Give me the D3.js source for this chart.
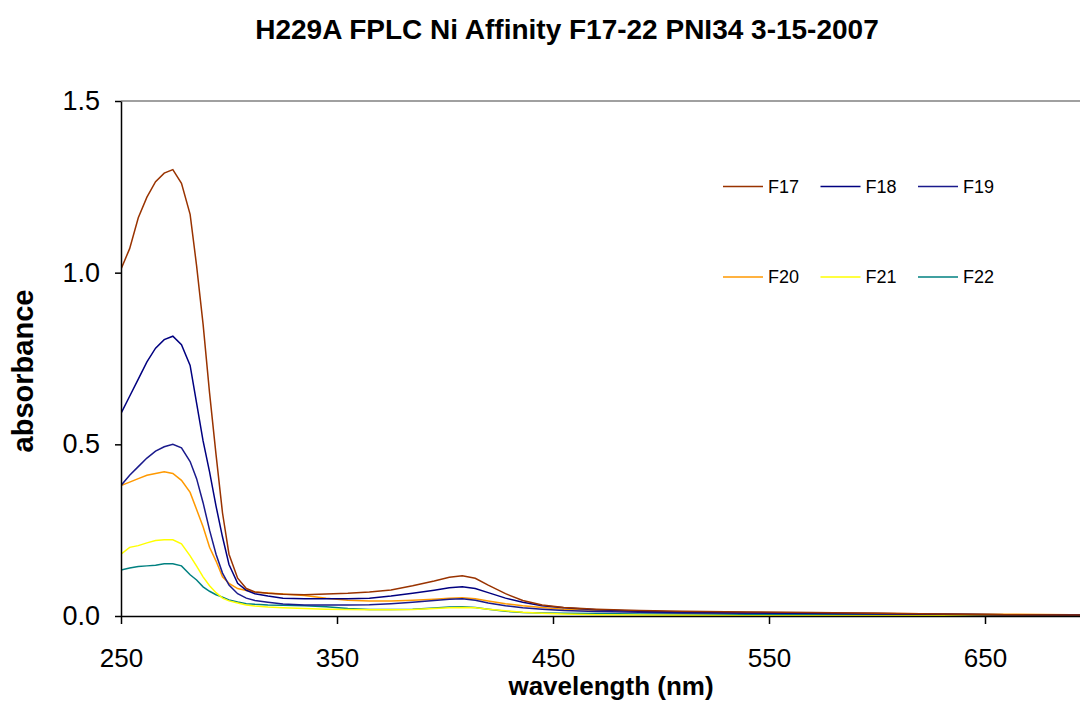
<!DOCTYPE html>
<html>
<head>
<meta charset="utf-8">
<script src="https://cdn.jsdelivr.net/npm/d3@7"></script>
<style>
  body { margin: 0; background: #fff; }
  svg { display: block; font-family: Arial, "Liberation Sans", sans-serif; }
</style>
</head>
<body>
<div class="graph"></div>
<script>
// wavelength (nm) sampled along the spectra
const wavelength = [250, 254, 258, 262, 266, 270, 274, 278, 282, 285, 288, 291, 294, 297, 300, 304, 308, 312, 318, 325, 335, 345, 355, 365, 375, 385, 395, 402, 408, 414, 420, 428, 436, 445, 455, 470, 490, 510, 540, 570, 600, 630, 660, 690, 700]

const F17 = [1.01, 1.07, 1.16, 1.22, 1.265, 1.29, 1.30, 1.26, 1.17, 1.02, 0.85, 0.65, 0.47, 0.30, 0.18, 0.11, 0.08, 0.07, 0.066, 0.063, 0.062, 0.064, 0.066, 0.07, 0.076, 0.088, 0.102, 0.113, 0.117, 0.11, 0.09, 0.065, 0.045, 0.032, 0.025, 0.02, 0.016, 0.014, 0.012, 0.01, 0.008, 0.006, 0.004, 0.003, 0.003]
const F18 = [0.59, 0.64, 0.69, 0.74, 0.78, 0.805, 0.815, 0.79, 0.73, 0.62, 0.51, 0.42, 0.32, 0.23, 0.15, 0.095, 0.075, 0.065, 0.058, 0.052, 0.05, 0.05, 0.05, 0.052, 0.058, 0.066, 0.075, 0.082, 0.085, 0.08, 0.068, 0.052, 0.04, 0.03, 0.024, 0.018, 0.014, 0.012, 0.01, 0.008, 0.007, 0.005, 0.004, 0.003, 0.003]
const F19 = [0.38, 0.41, 0.435, 0.46, 0.48, 0.493, 0.50, 0.49, 0.45, 0.40, 0.33, 0.25, 0.18, 0.125, 0.09, 0.065, 0.052, 0.045, 0.04, 0.035, 0.032, 0.032, 0.032, 0.033, 0.036, 0.04, 0.045, 0.049, 0.05, 0.046, 0.038, 0.03, 0.024, 0.02, 0.016, 0.013, 0.011, 0.009, 0.008, 0.007, 0.006, 0.005, 0.004, 0.004, 0.004]
const F20 = [0.38, 0.39, 0.40, 0.41, 0.415, 0.42, 0.415, 0.395, 0.36, 0.31, 0.26, 0.20, 0.16, 0.114, 0.095, 0.08, 0.074, 0.07, 0.067, 0.064, 0.06, 0.052, 0.046, 0.044, 0.044, 0.046, 0.049, 0.052, 0.053, 0.05, 0.044, 0.036, 0.03, 0.025, 0.02, 0.017, 0.014, 0.012, 0.01, 0.009, 0.008, 0.006, 0.005, 0.004, 0.004]
const F21 = [0.18, 0.20, 0.205, 0.213, 0.22, 0.222, 0.222, 0.21, 0.175, 0.145, 0.114, 0.088, 0.068, 0.052, 0.044, 0.038, 0.032, 0.029, 0.026, 0.024, 0.022, 0.02, 0.019, 0.018, 0.018, 0.019, 0.022, 0.024, 0.025, 0.024, 0.02, 0.015, 0.011, 0.008, 0.006, 0.004, 0.003, 0.002, 0.001, 0.001, 0.001, 0.001, 0.001, 0.001, 0.001]
const F22 = [0.134, 0.14, 0.144, 0.146, 0.148, 0.152, 0.152, 0.146, 0.12, 0.105, 0.085, 0.072, 0.062, 0.055, 0.047, 0.041, 0.036, 0.034, 0.032, 0.031, 0.03, 0.027, 0.022, 0.019, 0.019, 0.02, 0.023, 0.026, 0.027, 0.025, 0.02, 0.014, 0.01, 0.009, 0.008, 0.007, 0.006, 0.006, 0.005, 0.004, 0.004, 0.003, 0.003, 0.003, 0.003]

const seriesNames = ["F17", "F18", "F19", "F20", "F21", "F22"]
const seriesValues = [F17, F18, F19, F20, F21, F22]
const seriesColors = ["#993300", "#000080", "#1a1a8c", "#ff9900", "#ffff00", "#008080"]
const xTicks = [250, 350, 450, 550, 650]
const yTicks = [0, 0.5, 1.0, 1.5]

const width = 1080
const height = 702
const margin = ({top: 101, left: 121, bottom: 86})

const x = d3.scaleLinear()
  .domain([250, 700])
  .range([margin.left, margin.left + 450 * 2.16])

const y = d3.scaleLinear()
  .domain([0, 1.5])
  .range([height - margin.bottom, margin.top])

const svg = d3.select(".graph").append("svg")
  .attr("width", width)
  .attr("height", height)

// title
svg.append("text")
  .attr("x", 567).attr("y", 39)
  .attr("text-anchor", "middle")
  .style("font-weight", "bold").style("font-size", "28px")
  .text("H229A FPLC Ni Affinity F17-22 PNI34 3-15-2007")

// top border of plot
svg.append("line")
  .attr("x1", x(250)).attr("x2", width)
  .attr("y1", y(1.5)).attr("y2", y(1.5))
  .attr("stroke", "#808080").attr("stroke-width", 1.5)

svg.append("defs").append("clipPath").attr("id", "clip")
  .append("rect")
  .attr("x", x(250)).attr("y", y(1.5))
  .attr("width", width - x(250)).attr("height", y(0) - y(1.5) + 1)

const line = d3.line()
  .x((d, i) => x(wavelength[i]))
  .y(d => y(d))

svg.append("g").attr("clip-path", "url(#clip)")
  .selectAll("path")
  .data(seriesValues.slice().reverse())
  .join("path")
  .attr("fill", "none")
  .attr("stroke", (d, i) => seriesColors[seriesValues.length - 1 - i])
  .attr("stroke-width", 1.5)
  .attr("d", line)

const yAxis = g => g
  .attr("transform", `translate(${x(250)},0)`)
  .call(d3.axisLeft(y).tickValues(yTicks).tickFormat(d3.format(".1f"))
    .tickSize(6).tickSizeOuter(0).tickPadding(15))
  .call(g => g.selectAll("text").style("font-size", "27px").attr("fill", "#000"))
  .call(g => g.selectAll("line, path").attr("stroke", "#000").attr("stroke-width", 1.5))

const xAxis = g => g
  .attr("transform", `translate(0,${y(0)})`)
  .call(d3.axisBottom(x).tickValues(xTicks)
    .tickSize(8).tickSizeOuter(0).tickPadding(25))
  .call(g => g.selectAll("text").style("font-size", "26px").attr("fill", "#000"))
  .call(g => g.select(".domain").attr("d", `M${x(250)},0.5H${width}`))
  .call(g => g.selectAll("line, path").attr("stroke", "#000").attr("stroke-width", 1.5))

svg.append("g").call(yAxis)
svg.append("g").call(xAxis)

// axis titles
svg.append("text")
  .attr("transform", "translate(33,371) rotate(-90)")
  .attr("text-anchor", "middle")
  .style("font-weight", "bold").style("font-size", "29px")
  .text("absorbance")

svg.append("text")
  .attr("x", 611).attr("y", 695)
  .attr("text-anchor", "middle")
  .style("font-weight", "bold").style("font-size", "26px")
  .text("wavelength (nm)")

// legend, 3 per row
const legend = svg.append("g").selectAll("g")
  .data(seriesNames)
  .join("g")
  .attr("transform", (d, i) => `translate(${723 + (i % 3) * 97.5},${186.5 + Math.floor(i / 3) * 90.5})`)

legend.append("line")
  .attr("x1", 0).attr("x2", 40)
  .attr("stroke", (d, i) => seriesColors[i]).attr("stroke-width", 1.5)

legend.append("text")
  .attr("x", 45).attr("dy", "0.35em")
  .style("font-size", "18px")
  .text(d => d)
</script>
</body>
</html>
